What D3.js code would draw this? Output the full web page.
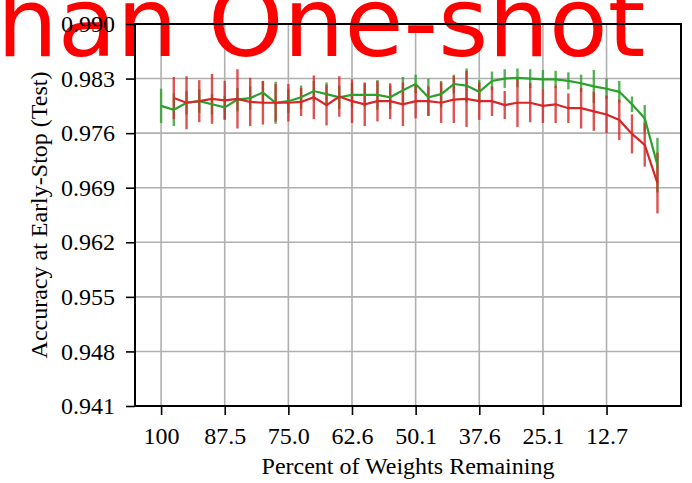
<!DOCTYPE html>
<style>
    body { margin: 0; background: #fff; }
    text { font-family: "Liberation Serif", "Times New Roman", serif; fill: #000; }
    .tick text { font-size: 24px; }
    .title { font-family: "DejaVu Sans", sans-serif; font-size: 96px; fill: #ff0000; }
</style>
<body>
<script src="https://cdn.jsdelivr.net/npm/d3@7"></script>
<script>
// chart values
var xTickLabels = ["100", "87.5", "75.0", "62.6", "50.1", "37.6", "25.1", "12.7"];
var xTickIters = [0, 5, 10, 15, 20, 25, 30, 35];
var yTicks = [0.941, 0.948, 0.955, 0.962, 0.969, 0.976, 0.983, 0.990];

var greenMean = [0.9795, 0.9790, 0.9799, 0.9801, 0.9797, 0.9793, 0.9803, 0.9805, 0.9812, 0.9799,
                 0.9801, 0.9806, 0.9814, 0.9810, 0.9806, 0.9809, 0.9809, 0.9809, 0.9806, 0.9815,
                 0.9823, 0.9806, 0.9810, 0.9823, 0.9821, 0.9813, 0.9827, 0.9830, 0.9831, 0.9830,
                 0.9829, 0.9829, 0.9827, 0.9824, 0.9820, 0.9817, 0.9813, 0.9797, 0.9779, 0.9719];
var greenErr = [0.0022, 0.0021, 0.0015, 0.0015, 0.0013, 0.0015, 0.0015, 0.0015, 0.0015, 0.0027,
                0.0015, 0.0015, 0.0013, 0.0015, 0.0015, 0.0015, 0.0015, 0.0019, 0.0015, 0.0017,
                0.0012, 0.0024, 0.0017, 0.0012, 0.0022, 0.0015, 0.0012, 0.0012, 0.0012, 0.0012,
                0.0012, 0.0011, 0.0011, 0.0011, 0.0021, 0.0013, 0.0014, 0.0010, 0.0017, 0.0035];

var redMean = [null, 0.9805, 0.9799, 0.9801, 0.9804, 0.9802, 0.9804, 0.9800, 0.9799, 0.9799,
               0.9799, 0.9800, 0.9806, 0.9796, 0.9807, 0.9801, 0.9797, 0.9801, 0.9801, 0.9797,
               0.9801, 0.9801, 0.9799, 0.9803, 0.9804, 0.9801, 0.9801, 0.9796, 0.9799, 0.9799,
               0.9795, 0.9797, 0.9792, 0.9792, 0.9788, 0.9784, 0.9777, 0.9759, 0.9745, 0.9696];
var redErr = [null, 0.0027, 0.0034, 0.0027, 0.0032, 0.0025, 0.0038, 0.0031, 0.0028, 0.0024,
              0.0024, 0.0018, 0.0028, 0.0026, 0.0026, 0.0028, 0.0028, 0.0026, 0.0023, 0.0028,
              0.0022, 0.0019, 0.0026, 0.0030, 0.0036, 0.0024, 0.0019, 0.0018, 0.0031, 0.0025,
              0.0022, 0.0024, 0.0019, 0.0026, 0.0025, 0.0024, 0.0026, 0.0025, 0.0028, 0.0039];

var width = 692, height = 483;
var plot = {left: 135, right: 681, top: 24, bottom: 406};

var x = d3.scaleLinear().domain([-2.05, 40.85]).range([plot.left, plot.right]);
var y = d3.scaleLinear().domain([0.941, 0.990]).range([plot.bottom, plot.top]);

var svg = d3.select("body").append("svg")
    .attr("width", width)
    .attr("height", height);

// grid
var grid = svg.append("g");
grid.selectAll(".vg").data(xTickIters).enter().append("line")
    .attr("x1", function(d) { return x(d); }).attr("x2", function(d) { return x(d); })
    .attr("y1", plot.top).attr("y2", plot.bottom)
    .attr("stroke", "#b0b0b0").attr("stroke-width", 1.6);
grid.selectAll(".hg").data(yTicks).enter().append("line")
    .attr("y1", function(d) { return y(d); }).attr("y2", function(d) { return y(d); })
    .attr("x1", plot.left).attr("x2", plot.right)
    .attr("stroke", "#b0b0b0").attr("stroke-width", 1.6);

// big red title, cut at the top
svg.append("text").attr("class", "title")
    .attr("x", -3).attr("y", 56)
    .text("han One-shot");

function series(mean, err, color) {
    var pts = mean.map(function(m, i) { return {i: i, m: m, e: err[i]}; })
        .filter(function(d) { return d.m !== null; });
    var g = svg.append("g");
    g.selectAll("line").data(pts).enter().append("line")
        .attr("x1", function(d) { return x(d.i); }).attr("x2", function(d) { return x(d.i); })
        .attr("y1", function(d) { return y(d.m - d.e); })
        .attr("y2", function(d) { return y(d.m + d.e); })
        .attr("stroke", color).attr("stroke-width", 2.4).attr("opacity", 0.8);
    return pts;
}

function seriesLine(pts, color) {
    var line = d3.line().x(function(d) { return x(d.i); }).y(function(d) { return y(d.m); });
    svg.append("path").datum(pts)
        .attr("d", line)
        .attr("fill", "none").attr("stroke", color).attr("stroke-width", 2.2);
}

var gPts = series(greenMean, greenErr, "#2ca02c");
var rPts = series(redMean, redErr, "#d62728");
seriesLine(gPts, "#2ca02c");
seriesLine(rPts, "#d62728");

// axes
var xAxis = d3.axisBottom(x).tickValues(xTickIters)
    .tickFormat(function(d, i) { return xTickLabels[i]; })
    .tickSize(9).tickPadding(12).tickSizeOuter(0);
var yAxis = d3.axisLeft(y).tickValues(yTicks)
    .tickFormat(d3.format(".3f"))
    .tickSize(9).tickPadding(11).tickSizeOuter(0);

svg.append("g").attr("transform", "translate(0," + plot.bottom + ")").call(xAxis);
svg.append("g").attr("transform", "translate(" + plot.left + ",0)").call(yAxis);
svg.selectAll(".domain").remove();
svg.selectAll(".tick line").attr("stroke", "#000").attr("stroke-width", 1.6);
svg.selectAll(".tick text").attr("fill", "#000");

// frame
svg.append("rect")
    .attr("x", plot.left).attr("y", plot.top)
    .attr("width", plot.right - plot.left).attr("height", plot.bottom - plot.top)
    .attr("fill", "none").attr("stroke", "#000").attr("stroke-width", 2);

// axis labels
svg.append("text")
    .attr("x", (plot.left + plot.right) / 2).attr("y", 474)
    .attr("text-anchor", "middle").style("font-size", "24px")
    .text("Percent of Weights Remaining");
svg.append("text")
    .attr("transform", "translate(47," + (plot.top + plot.bottom) / 2 + ") rotate(-90)")
    .attr("text-anchor", "middle").style("font-size", "24px")
    .text("Accuracy at Early-Stop (Test)");
</script>
</body>
